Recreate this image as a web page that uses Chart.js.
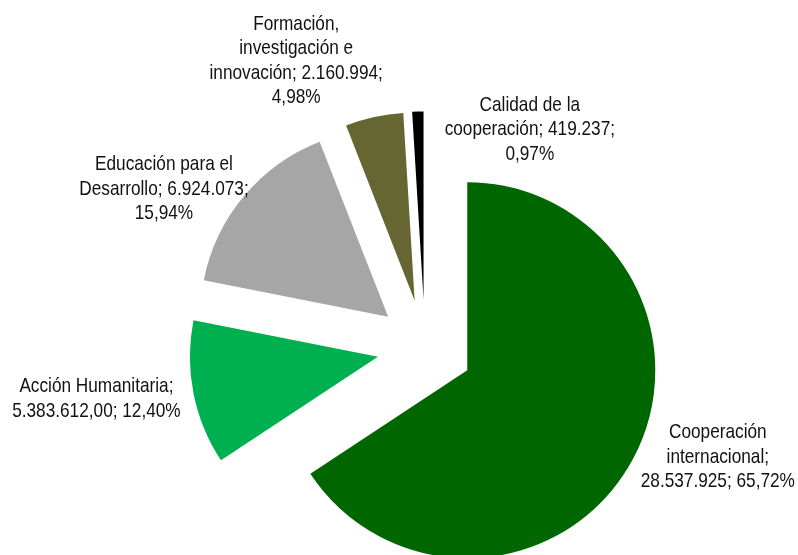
<!DOCTYPE html>
<html>
<head>
<meta charset="utf-8">
<script src="https://cdn.jsdelivr.net/npm/chart.js@4/dist/chart.umd.min.js"></script>
<style>
  html, body { margin: 0; padding: 0; background: #fff; }
  #wrap { width: 798px; height: 555px; position: relative; }
</style>
</head>
<body>
<div id="wrap"><canvas id="pie"></canvas></div>
<script>
'use strict';

// ── Data ──────────────────────────────────────────────────────────────────────

const categories = [
    'Cooperación internacional',
    'Acción Humanitaria',
    'Educación para el Desarrollo',
    'Formación, investigación e innovación',
    'Calidad de la cooperación',
];
const amounts = [28537925, 5383612, 6924073, 2160994, 419237];
const sliceColors = ['#006600', '#00B050', '#A6A6A6', '#666633', '#000000'];

// data label text, as printed on the chart (line breaks included)
const labelLines = [
    ['Cooperación', 'internacional;', '28.537.925; 65,72%'],
    ['Acción Humanitaria;', '5.383.612,00; 12,40%'],
    ['Educación para el', 'Desarrollo; 6.924.073;', '15,94%'],
    ['Formación,', 'investigación e', 'innovación; 2.160.994;', '4,98%'],
    ['Calidad de la', 'cooperación; 419.237;', '0,97%'],
];

// label nudge from the outer edge of each exploded slice
const labelNudge = [[85, -4], [-97, 4], [-80, -9], [-78, -58], [112, 16]];

const EXPLODE = 48;
const RADIUS = 188;
const FONT = '21px "Liberation Sans", Arial, sans-serif';
const LINE_H = 24.5;
const NARROW = 0.82;

// ── Plugins ───────────────────────────────────────────────────────────────────

// draws every arc pushed out along its mid angle (Excel style explosion)
const explodePlugin = {
    id: 'explode',
    beforeDatasetDraw(chart, args) {
        const ctx = chart.ctx;
        args.meta.data.forEach(arc => {
            const mid = (arc.startAngle + arc.endAngle) / 2;
            ctx.save();
            ctx.translate(Math.cos(mid) * EXPLODE, Math.sin(mid) * EXPLODE);
            arc.draw(ctx);
            ctx.restore();
        });
        return false;
    },
};

const labelPlugin = {
    id: 'sliceLabels',
    afterDatasetsDraw(chart) {
        const ctx = chart.ctx;
        const arcs = chart.getDatasetMeta(0).data;
        ctx.save();
        ctx.font = FONT;
        ctx.fillStyle = '#111111';
        ctx.textAlign = 'center';
        ctx.textBaseline = 'alphabetic';
        arcs.forEach((arc, i) => {
            const mid = (arc.startAngle + arc.endAngle) / 2;
            const dist = arc.outerRadius + EXPLODE;
            const cx = arc.x + Math.cos(mid) * dist + labelNudge[i][0];
            const cy = arc.y + Math.sin(mid) * dist + labelNudge[i][1];
            const lines = labelLines[i];
            lines.forEach((line, j) => {
                const by = cy + (j - (lines.length - 1) / 2) * LINE_H + 7.5;
                ctx.save();
                ctx.translate(cx, by);
                ctx.scale(NARROW, 1);
                ctx.fillText(line, 0, 0);
                ctx.restore();
            });
        });
        ctx.restore();
    },
};

// ── Chart ─────────────────────────────────────────────────────────────────────

new Chart(document.getElementById('pie').getContext('2d'), {
    type: 'pie',
    data: {
        labels: categories,
        datasets: [{
            data: amounts,
            backgroundColor: sliceColors,
            borderWidth: 0,
            clip: false,
        }],
    },
    options: {
        responsive: true,
        maintainAspectRatio: false,
        animation: false,
        radius: RADIUS,
        layout: { padding: { left: 52, right: 0, top: 140, bottom: 0 } },
        plugins: {
            legend: { display: false },
            tooltip: { enabled: false },
        },
    },
    plugins: [explodePlugin, labelPlugin],
});
</script>
</body>
</html>
